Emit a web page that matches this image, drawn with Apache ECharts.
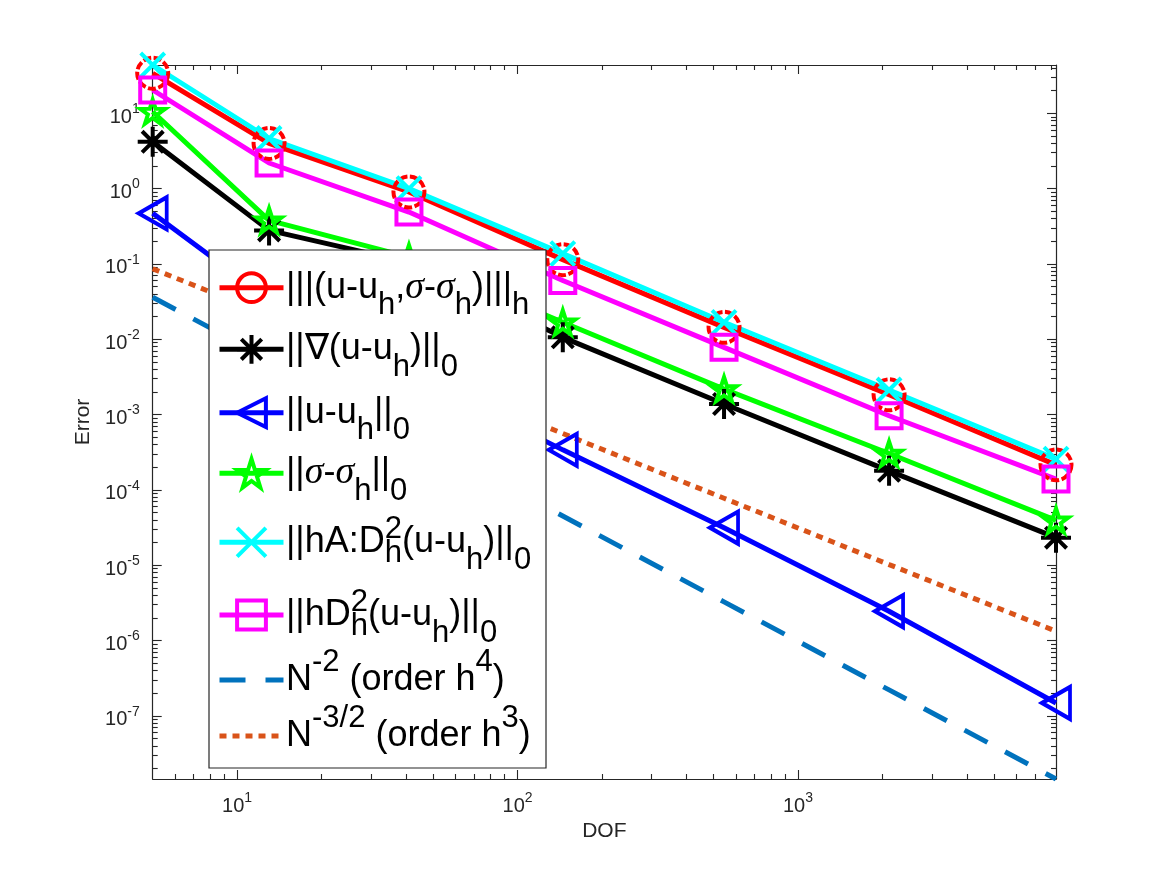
<!DOCTYPE html>
<html>
<head>
<meta charset="utf-8">
<script src="https://cdn.jsdelivr.net/npm/echarts@6/dist/echarts.min.js"></script>
<style>
  html, body { margin: 0; padding: 0; background: #fff; }
  #chart { width: 1167px; height: 875px; }
</style>
</head>
<body>
<div id="chart"></div>
<script>
// 自由度
var dof = [5, 13, 41, 145, 545, 2113, 8321];
// 各误差
var errEnergy = [34.0, 3.98, 0.902, 0.114, 0.0144, 1.83e-3, 2.15e-4];
var errGrad = [4.18, 0.279, 0.105, 0.0106, 1.38e-3, 1.79e-4, 2.32e-5];
var errL2 = [0.470, 0.0337, 3.60e-3, 3.40e-4, 3.15e-5, 2.45e-6, 1.48e-7];
var errSigma = [10.5, 0.379, 0.123, 0.0168, 2.18e-3, 3.04e-4, 3.94e-5];
var errHA = [43.8, 4.63, 1.00, 0.137, 0.0168, 2.12e-3, 2.56e-4];
var errHD = [20.4, 2.19, 0.489, 0.0603, 7.81e-3, 9.64e-4, 1.39e-4];
// 参考斜率线
var refN2 = [0.0361, 5.43e-3, 5.53e-4, 4.50e-5, 3.26e-6, 2.21e-7, 1.45e-8];
var refN32 = [0.0863, 0.0207, 3.72e-3, 5.61e-4, 7.74e-5, 1.02e-5, 1.33e-6];

// 刻度
var xMajor = [10, 100, 1000];
var yMajor = [1e-7, 1e-6, 1e-5, 1e-4, 1e-3, 1e-2, 1e-1, 1, 10];
var xMin = 5, xMax = 8321, yMin = 1.45e-8, yMax = 43.8;

var names = ['energy', 'grad', 'l2', 'sigma', 'hA', 'hD', 'n2', 'n32'];
var legendText = {
    energy: '{m||||(u-u}{s|h}{m|,}{g|σ}{m|-}{g|σ}{s|h}{m|)|||}{s|h}',
    grad: '{m|||∇(u-u}{s|h}{m|)||}{s|0}',
    l2: '{m|||u-u}{s|h}{m|||}{s|0}',
    sigma: '{m|||}{g|σ}{m|-}{g|σ}{s|h}{m|||}{s|0}',
    hA: '{m|||hA:D}{t|2}{q|h}{m|(u-u}{s|h}{m|)||}{s|0}',
    hD: '{m|||hD}{t|2}{q|h}{m|(u-u}{s|h}{m|)||}{s|0}',
    n2: '{m|N}{p|-2}{m| (order h}{p|4}{m|)}',
    n32: '{m|N}{p|-3/2}{m| (order h}{p|3}{m|)}'
};

// 次刻度
function minorTicks(lo, hi, e0, e1) {
    var arr = [];
    for (var e = e0; e <= e1; e++) {
        for (var k = 2; k <= 9; k++) {
            var v = parseFloat((k * Math.pow(10, e)).toPrecision(3));
            if (v > lo && v < hi) arr.push(v);
        }
    }
    return arr;
}
var xMinor = minorTicks(xMin, xMax, 0, 3);
var yMinor = minorTicks(yMin, yMax, -8, 1);

function pairs(ys) {
    return dof.map(function (x, i) { return [x, ys[i]]; });
}

var FONT = 'Liberation Sans';
var AX = '#262626';

function expLabel(v, pre) {
    var e = Math.round(Math.log10(v));
    return '{' + pre + 'b|10}{' + pre + 'e|' + e + '}';
}

function logAxis(dim, pos, major, opts) {
    var tickVals = major ? (dim == 'x' ? xMajor : yMajor) : (dim == 'x' ? xMinor : yMinor);
    var ax = {
        type: 'log',
        logBase: 10,
        min: dim == 'x' ? xMin : yMin,
        max: dim == 'x' ? xMax : yMax,
        position: pos,
        axisLine: { show: major, onZero: false, lineStyle: { color: AX, width: 1.2 } },
        axisTick: {
            show: true, inside: true, length: major ? 9 : 5,
            customValues: tickVals,
            lineStyle: { color: AX, width: 1.1 }
        },
        minorTick: { show: false },
        splitLine: { show: false },
        axisLabel: { show: false }
    };
    return Object.assign(ax, opts || {});
}

var xLabel = {
    show: true,
    customValues: xMajor,
    margin: 12,
    formatter: function (v) { return expLabel(v, 'x'); },
    rich: {
        xb: { fontFamily: FONT, fontSize: 20, color: AX },
        xe: { fontFamily: FONT, fontSize: 14, color: AX, padding: [0, 0, 16, 0] }
    }
};
var yLabel = {
    show: true,
    customValues: yMajor,
    margin: 13,
    formatter: function (v) { return expLabel(v, 'y'); },
    rich: {
        yb: { fontFamily: FONT, fontSize: 20, color: AX, padding: [8, 0, 0, 0] },
        ye: { fontFamily: FONT, fontSize: 14, color: AX, padding: [0, 0, 8, 0] }
    }
};

var STAR = 'path://M10,0L12.245,6.91L19.511,6.91L13.633,11.18L15.878,18.09L10,13.82L4.122,18.09L6.367,11.18L0.489,6.91L7.755,6.91Z';
var ASTER = 'path://M0,10L20,10M10,0L10,20M2.93,2.93L17.07,17.07M17.07,2.93L2.93,17.07';
var CROSS = 'path://M0,0L20,20M20,0L0,20';
var TRI = 'path://M0,10L17,0L17,20Z';

function lineSeries(name, ys, color, symbol, size, extra) {
    var s = {
        name: name,
        type: 'line',
        data: pairs(ys),
        symbol: symbol,
        symbolSize: size,
        symbolKeepAspect: false,
        showAllSymbol: true,
        clip: false,
        z: 3,
        lineStyle: { color: color, width: 5 },
        itemStyle: { color: 'rgba(0,0,0,0)', borderColor: color, borderWidth: 4 },
        emphasis: { disabled: true }
    };
    return Object.assign(s, extra || {});
}

var hidden = { color: 'rgba(0,0,0,0)', borderColor: 'rgba(0,0,0,0)', borderWidth: 0 };

// 图例：每行单独放，位置跟原图一致
var rowY = [287.7, 349.3, 412.7, 473.3, 542.3, 615, 680, 736];
var legends = names.map(function (n, i) {
    return {
        data: [n],
        orient: 'vertical',
        left: 217,
        top: rowY[i] - 16.4,
        padding: 0,
        itemWidth: 64,
        itemHeight: 36,
        selectedMode: false,
        z: 12,
        lineStyle: { width: 5 },
        itemStyle: { borderWidth: 4 },
        formatter: function () { return ' '; },
        textStyle: { fontSize: 16 }
    };
});

var legendRich = {
    m: { fontFamily: FONT, fontSize: 36, fill: '#000' },
    g: { fontFamily: 'Liberation Serif', fontStyle: 'italic', fontSize: 38, fill: '#000' },
    s: { fontFamily: FONT, fontSize: 31, fill: '#000', padding: [36, 0, 0, 0] },
    p: { fontFamily: FONT, fontSize: 31, fill: '#000', padding: [0, 0, 36, 0] },
    t: { fontFamily: FONT, fontSize: 31, fill: '#000', padding: [0, 0, 26, 0], width: 0 },
    q: { fontFamily: FONT, fontSize: 31, fill: '#000', padding: [22, 0, 0, 0] }
};
var legendLabels = names.map(function (n, i) {
    return {
        type: 'text',
        z: 13,
        x: 286,
        y: rowY[i],
        style: {
            text: legendText[n],
            rich: legendRich,
            fontFamily: FONT,
            fontSize: 36,
            fill: '#000',
            align: 'left',
            verticalAlign: 'middle',
            textAlign: 'left',
            textVerticalAlign: 'middle'
        }
    };
});

var option = {
    animation: false,
    backgroundColor: '#fff',
    grid: { left: 152.7, right: 111, top: 65, bottom: 96, containLabel: false, outerBoundsMode: 'none' },
    xAxis: [
        logAxis('x', 'bottom', true, {
            axisLabel: xLabel,
            name: 'DOF', nameLocation: 'middle', nameGap: 42,
            nameTextStyle: { fontFamily: FONT, fontSize: 21, color: AX }
        }),
        logAxis('x', 'bottom', false),
        logAxis('x', 'top', true),
        logAxis('x', 'top', false)
    ],
    yAxis: [
        logAxis('y', 'left', true, {
            axisLabel: yLabel,
            name: 'Error', nameLocation: 'middle', nameGap: 57,
            nameTextStyle: { fontFamily: FONT, fontSize: 21, color: AX }
        }),
        logAxis('y', 'left', false),
        logAxis('y', 'right', true),
        logAxis('y', 'right', false)
    ],
    graphic: {
        z: 10,
        elements: [{
            type: 'rect',
            z: 10,
            shape: { x: 209, y: 250, width: 337, height: 518 },
            style: { fill: '#fff', stroke: AX, lineWidth: 1.2 }
        }].concat(legendLabels)
    },
    legend: legends,
    series: [
        lineSeries('energy', errEnergy, '#ff0000', 'circle', 31,
            { itemStyle: { color: 'rgba(0,0,0,0)', borderColor: '#ff0000', borderWidth: 4, borderType: [8, 2.5] } }),
        lineSeries('grad', errGrad, '#000000', ASTER, 30),
        lineSeries('l2', errL2, '#0000ff', TRI, [28, 32]),
        lineSeries('sigma', errSigma, '#00ff00', STAR, [25, 24]),
        lineSeries('hA', errHA, '#00ffff', CROSS, 24),
        lineSeries('hD', errHD, '#ff00ff', 'rect', 25),
        lineSeries('n2', refN2, '#0072bd', 'none', 0, {
            lineStyle: { color: '#0072bd', width: 5, type: [26, 20] },
            itemStyle: hidden
        }),
        lineSeries('n32', refN32, '#d95319', 'none', 0, {
            lineStyle: { color: '#d95319', width: 5, type: [7, 6] },
            itemStyle: hidden
        })
    ]
};

var myChart = echarts.init(document.getElementById('chart'));
myChart.setOption(option);
</script>
</body>
</html>
